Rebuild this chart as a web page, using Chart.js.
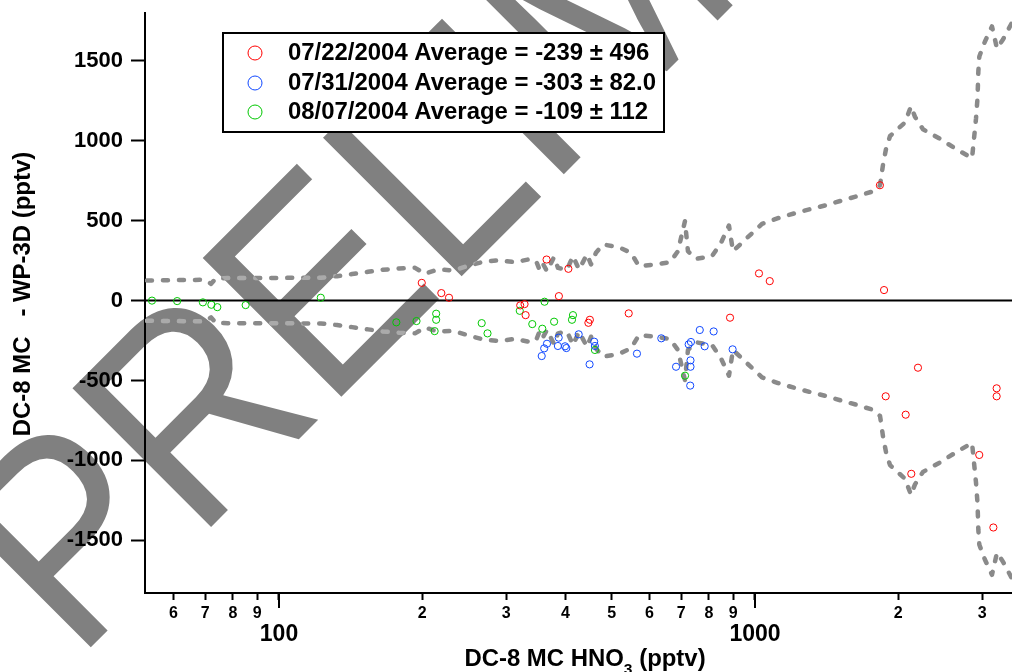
<!DOCTYPE html>
<html lang="en">
<head>
<meta charset="UTF-8">
<title>DC-8 MC - WP-3D HNO3</title>
<script src="https://cdn.jsdelivr.net/npm/chart.js"></script>
<style>
  * { margin: 0; padding: 0; box-sizing: border-box; }
  body { background: #fff; width: 1012px; height: 672px; overflow: hidden; }
  .wrap { position: relative; width: 1012px; height: 672px; }
</style>
</head>
<body>
<div class="wrap"><canvas id="chart"></canvas></div>
<script>
const FONT = "'Liberation Sans', Arial, Helvetica, sans-serif";

// legend text per flight day
const seriesLabels = [
  '07/22/2004 Average = -239 \u00b1 496',
  '07/31/2004 Average = -303 \u00b1 82.0',
  '08/07/2004 Average = -109 \u00b1 112'
];
const seriesColors = ['#ff0000', '#1048ff', '#00c800'];

// 07/22/2004
const redX = [199.5, 219.3, 227.6, 364.9, 405.5, 387.3, 321.2, 328, 329.7, 449.9, 446.7, 542.9, 1019.5, 1074, 886.3,
  1830, 1867, 2200, 1882, 2073, 3219, 3219, 2959, 2130, 3168];
const redY = [111, 47, 18, 257, 199, 28, -30, -22, -91, -120, -139, -80, 170, 122, -107,
  722, 66, -420, -599, -714, -549, -599, -966, -1084, -1420];

// 07/31/2004
const blueX = [356.4, 360.7, 365.6, 386.9, 385.4, 399, 401.5, 426.2, 459.4, 461, 449.3, 565, 635.6, 765.6, 818.8,
  784, 725.6, 733.6, 732, 732, 682.6, 731, 897.4];
const blueY = [-347, -299, -270, -232, -284, -286, -297, -211, -257, -284, -399, -332, -236, -184, -193,
  -286, -274, -259, -374, -414, -414, -532, -305];

// 08/07/2004
const greenX = [54.1, 61.1, 69.2, 72.1, 74.2, 85.1, 122.4, 176.4, 194.5, 213.9, 213.9, 212.3, 266.6, 274.2, 320.5,
  361.3, 340.5, 357.4, 378.4, 414.6, 412.6, 461, 712.9];
const greenY = [0, -3, -11, -26, -41, -28, 18, -136, -128, -82, -120, -191, -141, -205, -64,
  -7, -147, -176, -132, -91, -120, -309, -470];

// uncertainty envelope (dashed grey)
const envX = [52.8, 68.6, 70.2, 72.0, 73.7, 78.1, 122.5, 132.4, 142.4, 153.8, 165.4, 178.7, 193.1, 202.6, 215.8,
  232.1, 248.3, 268.3, 289.9, 313.2, 333.6, 346.7, 351.8, 357.0, 365.6, 378.2, 385.6, 402.7, 414.6, 426.9,
  443.7, 452.4, 463.4, 479.4, 515.6, 548.9, 570.5, 616.6, 663.0, 688.8, 712.6, 723.1, 751.7, 812.3, 848.3,
  881.8, 899.0, 962.0, 1034.4, 1117.7, 1213.4, 1304.7, 1410.0, 1523.6, 1638.4, 1770.3, 1831.2, 1858.0, 1885.2, 1922.0,
  2066.3, 2127.1, 2168.6, 2254.1, 2436.1, 2632.2, 2857.7, 2913.5, 2934.6, 2946, 2960.3, 3042, 3147, 3224, 3319, 3467];
const envUpper = [126, 130, 128, 105, 140, 141, 143, 153, 166, 180, 193, 201, 205, 168, 195,
  189, 215, 243, 253, 240, 257, 250, 201, 240, 184, 272, 205, 193, 278, 195,
  289, 226, 300, 351, 336, 299, 216, 226, 240, 309, 497, 309, 261, 278, 361,
  470, 309, 392, 480, 516, 547, 572, 597, 627, 653, 684, 722, 852, 950, 1030,
  1115, 1216, 1150, 1072, 1016, 953, 891, 1142, 1270, 1434, 1528, 1622, 1716, 1578, 1634, 1740];
const envLower = [-126, -130, -128, -105, -140, -141, -143, -153, -166, -180, -193, -201, -205, -168, -195,
  -189, -215, -243, -253, -240, -257, -250, -201, -240, -184, -272, -205, -193, -278, -195,
  -289, -226, -300, -351, -336, -299, -216, -226, -240, -309, -497, -309, -261, -278, -361,
  -470, -309, -392, -480, -516, -547, -572, -597, -627, -653, -684, -722, -852, -950, -1030,
  -1115, -1216, -1150, -1072, -1016, -953, -891, -1142, -1270, -1434, -1528, -1622, -1716, -1578, -1634, -1740];

// axes
const xMin = 52.3, xMax = 3467;
const yMin = -1830, yMax = 1800;
const xTickValues = [60, 70, 80, 90, 100, 200, 300, 400, 500, 600, 700, 800, 900, 1000, 2000, 3000];
const xTickLabels = ['6', '7', '8', '9', ['', '100'], '2', '3', '4', '5', '6', '7', '8', '9', ['', '1000'], '2', '3'];
const xMajor = [100, 1000];
const yTickValues = [-1500, -1000, -500, 0, 500, 1000, 1500];

function pts(xs, ys) {
  return xs.map((x, i) => ({ x: x, y: ys[i] }));
}

function drawWatermarkText(ctx) {
  ctx.save();
  ctx.translate(76, 662);
  ctx.rotate(-Math.PI / 4);
  ctx.scale(0.895, 1);
  ctx.font = '285px ' + FONT;
  ctx.fillStyle = '#808080';
  ctx.textBaseline = 'alphabetic';
  ctx.fillText('PRELIMINARY', 0, 0);
  ctx.restore();
}

const watermark = {
  id: 'watermark',
  beforeDraw(chart) {
    drawWatermarkText(chart.ctx);
  },
  // dashes that cross the watermark show up lighter
  afterDatasetDraw(chart, args) {
    if (args.index !== 4 && args.index !== 5) return;
    const area = chart.chartArea;
    const off = document.createElement('canvas');
    off.width = chart.width;
    off.height = chart.height;
    const o = off.getContext('2d');
    o.save();
    o.beginPath();
    o.rect(area.left, area.top, area.right - area.left, area.bottom - area.top);
    o.clip();
    args.meta.dataset.draw(o, area);
    o.restore();
    o.globalCompositeOperation = 'source-in';
    o.fillStyle = '#aaaaaa';
    o.fillRect(0, 0, off.width, off.height);
    o.globalCompositeOperation = 'destination-in';
    drawWatermarkText(o);
    chart.ctx.drawImage(off, 0, 0);
  }
};

const extras = {
  id: 'extras',
  afterDraw(chart) {
    const ctx = chart.ctx;
    const xs = chart.scales.x;
    const area = chart.chartArea;

    // long ticks at the decades
    ctx.save();
    ctx.strokeStyle = '#000';
    ctx.lineWidth = 2;
    xMajor.forEach(v => {
      const px = Math.round(xs.getPixelForValue(v));
      ctx.beginPath();
      ctx.moveTo(px, area.bottom);
      ctx.lineTo(px, area.bottom + 15);
      ctx.stroke();
    });
    ctx.restore();

    // axis titles
    ctx.save();
    ctx.fillStyle = '#000';
    ctx.font = 'bold 23px ' + FONT;
    const a = 'DC-8 MC HNO', b = '3', c = ' (pptv)';
    const wa = ctx.measureText(a).width, wc = ctx.measureText(c).width;
    ctx.font = 'bold 15px ' + FONT;
    const wb = ctx.measureText(b).width;
    ctx.translate(585, 666);
    ctx.scale(1.04, 1);
    const x0 = -(wa + wb + wc) / 2;
    ctx.textBaseline = 'alphabetic';
    ctx.font = 'bold 23px ' + FONT;
    ctx.fillText(a, x0, 0);
    ctx.font = 'bold 15px ' + FONT;
    ctx.fillText(b, x0 + wa, 8);
    ctx.font = 'bold 23px ' + FONT;
    ctx.fillText(c, x0 + wa + wb, 0);
    ctx.restore();

    ctx.save();
    ctx.fillStyle = '#000';
    ctx.translate(24, 294);
    ctx.rotate(-Math.PI / 2);
    ctx.scale(1.04, 1);
    ctx.font = 'bold 23px ' + FONT;
    ctx.textAlign = 'center';
    ctx.textBaseline = 'middle';
    ctx.fillText('DC-8 MC   - WP-3D (pptv)', 0, 0);
    ctx.restore();

    // legend box
    ctx.save();
    ctx.fillStyle = '#fff';
    ctx.fillRect(223, 33, 441, 99);
    ctx.strokeStyle = '#000';
    ctx.lineWidth = 2;
    ctx.strokeRect(223, 33, 441, 99);
    const rows = [53, 83, 112];
    seriesLabels.forEach((lab, i) => {
      ctx.beginPath();
      ctx.arc(255, rows[i], 7, 0, Math.PI * 2);
      ctx.strokeStyle = seriesColors[i];
      ctx.lineWidth = 1;
      ctx.stroke();
      ctx.save();
      ctx.translate(288, rows[i] + 1);
      ctx.scale(1.04, 1);
      ctx.fillStyle = '#000';
      ctx.font = 'bold 23px ' + FONT;
      ctx.textBaseline = 'middle';
      ctx.fillText(lab, 0, 0);
      ctx.restore();
    });
    ctx.restore();
  }
};

const envStyle = {
  type: 'line',
  showLine: true,
  borderColor: '#8a8a8a',
  borderWidth: 4.5,
  borderDash: [5, 11],
  borderCapStyle: 'round',
  borderJoinStyle: 'round',
  pointRadius: 0,
  tension: 0,
  fill: false
};

function scatterSet(i, xs, ys) {
  return {
    label: seriesLabels[i],
    data: pts(xs, ys),
    showLine: false,
    pointStyle: 'circle',
    pointRadius: 3.6,
    pointBorderWidth: 1,
    borderColor: seriesColors[i],
    pointBorderColor: seriesColors[i],
    pointBackgroundColor: 'rgba(0,0,0,0)',
    order: 1
  };
}

new Chart(document.getElementById('chart'), {
  type: 'scatter',
  data: {
    datasets: [
      scatterSet(0, redX, redY),
      scatterSet(1, blueX, blueY),
      scatterSet(2, greenX, greenY),
      {
        type: 'line', showLine: true, data: [{ x: xMin, y: 0 }, { x: xMax, y: 0 }],
        borderColor: '#000', borderWidth: 2, pointRadius: 0, order: 2
      },
      Object.assign({ data: pts(envX, envUpper), order: 3 }, envStyle),
      Object.assign({ data: pts(envX, envLower), order: 3 }, envStyle)
    ]
  },
  options: {
    responsive: true,
    maintainAspectRatio: false,
    animation: false,
    events: [],
    devicePixelRatio: 1,
    layout: { autoPadding: false, padding: { top: 13, right: 0, bottom: 0, left: 0 } },
    plugins: { legend: { display: false }, tooltip: { enabled: false } },
    scales: {
      x: {
        type: 'logarithmic',
        min: xMin,
        max: xMax,
        afterFit(scale) {
          scale.height = 79;
          scale.paddingLeft = 0;
          scale.paddingRight = 0;
        },
        afterBuildTicks(scale) { scale.ticks = xTickValues.map(v => ({ value: v })); },
        grid: { display: true, drawOnChartArea: false, drawTicks: true, tickLength: 7, tickWidth: 2, tickColor: '#000' },
        border: { display: true, color: '#000', width: 2 },
        ticks: {
          autoSkip: false,
          maxRotation: 0,
          minRotation: 0,
          padding: 4,
          color: '#000',
          font: (ctx) => {
            const major = ctx.tick && xMajor.includes(ctx.tick.value);
            return major
              ? { family: FONT, size: 23, weight: 'bold', lineHeight: 0.9 }
              : { family: FONT, size: 16, weight: 'bold', lineHeight: 1.2 };
          },
          callback: (value, index) => xTickLabels[index]
        },
        title: { display: false }
      },
      y: {
        type: 'linear',
        min: yMin,
        max: yMax,
        afterFit(scale) {
          scale.width = 145;
          scale.paddingTop = 0;
          scale.paddingBottom = 0;
        },
        afterBuildTicks(scale) { scale.ticks = yTickValues.map(v => ({ value: v })); },
        grid: { display: true, drawOnChartArea: false, drawTicks: true, tickLength: 14, tickWidth: 2, tickColor: '#000' },
        border: { display: true, color: '#000', width: 2 },
        ticks: {
          padding: 8,
          color: '#000',
          font: { family: FONT, size: 22, weight: 'bold' },
          callback: (value) => String(value)
        },
        title: { display: false }
      }
    }
  },
  plugins: [watermark, extras]
});
</script>
</body>
</html>
